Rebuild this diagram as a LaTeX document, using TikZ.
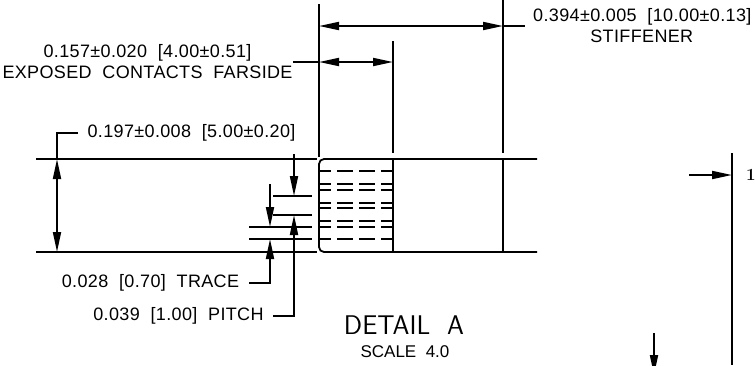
\documentclass[tikz,border=0pt]{standalone}
\usepackage{fontspec}
\usepackage{tikz}
\usetikzlibrary{arrows.meta}
\newfontfamily\cadfont[LetterSpace=2,WordSpace=2]{Liberation Sans}
\newfontfamily\cadplain[WordSpace=2]{Liberation Sans}

\tikzset{
  dimline/.style={line width=1.8pt},
  dimarrow/.style={line width=1.8pt,-{Triangle[length=20pt,width=8pt]}},
  lbl/.style={inner sep=0pt,font=\cadfont\fontsize{18}{18}\selectfont},
}

\begin{document}
\begin{tikzpicture}[x=1pt,y=1pt]
\clip (0,0) rectangle (755,-365);
\fill [white] (0,0) rectangle (755,-365);
% outline of the part
\draw [dimline] (36,-159) -- (317,-159);
\draw [dimline] (36,-252) -- (317,-252);
\draw [dimline] (537,-159) -- (324,-159) arc (90:180:5) -- (319,-247) arc (180:270:5) -- (537,-252);
\draw [dimline] (393,-159) -- (393,-252);
\draw [dimline] (503,-159) -- (503,-252);
% traces
\foreach \y in {171,184,190,203,208,221,227,239}
  \draw [dimline,dash pattern=on 16pt off 6pt,dash phase=4pt] (319,-\y) -- (393,-\y);
% extension lines
\draw [dimline] (319,-4) -- (319,-157);
\draw [dimline] (393,-41) -- (393,-153);
\draw [dimline] (503,0) -- (503,-153);
\draw [dimline] (273,-196) -- (312,-196);
\draw [dimline] (273,-215) -- (312,-215);
\draw [dimline] (249,-227) -- (312,-227);
\draw [dimline] (249,-239) -- (312,-239);
% top dimensions
\draw [dimarrow] (411,-26) -- (319,-26);
\draw [dimarrow] (411,-26) -- (503,-26);
\draw [dimline] (503,-26) -- (525,-26);
\draw [dimline] (293,-62) -- (319,-62);
\draw [dimarrow] (356,-62) -- (319,-62);
\draw [dimarrow] (356,-62) -- (393,-62);
% height
\draw [dimline] (78,-133) -- (57,-133) -- (57,-159);
\draw [dimarrow] (57,-205) -- (57,-159);
\draw [dimarrow] (57,-205) -- (57,-252);
% pitch and trace
\draw [dimarrow] (294,-154) -- (294,-196);
\draw [dimarrow] (273,-316) -- (294,-316) -- (294,-215);
\draw [dimarrow] (270,-184) -- (270,-227);
\draw [dimarrow] (249,-283) -- (270,-283) -- (270,-239);
% right side
\draw [dimline] (732,-153) -- (732,-365);
\draw [dimarrow] (689,-175) -- (732,-175);
\draw [dimarrow] (654,-333) -- (654,-375);
% labels
\node [lbl] (lblExposed) at (147.5,-52.5) {0.157±0.020 [4.00±0.51]};
\node [lbl] (lblFarside) at (147.5,-72.7) {EXPOSED CONTACTS FARSIDE};
\node [lbl] (lblHeight) at (191.5,-133.3) {0.197±0.008 [5.00±0.20]};
\node [lbl] (lblWidth) at (642.3,-17) {0.394±0.005 [10.00±0.13]};
\node [lbl] (lblStiffener) at (641.8,-36.7) {STIFFENER};
\node [lbl] (lblTrace) at (150.5,-283) {0.028 [0.70] TRACE};
\node [lbl] (lblPitch) at (178.5,-316) {0.039 [1.00] PITCH};
\node [lbl,font=\sffamily\fontsize{27}{27}\selectfont] (lblDetail) at (404,-325) {DETAIL\ \ A};
\node [lbl,font=\cadplain\fontsize{17}{17}\selectfont] (lblScale) at (405,-351.7) {SCALE 4.0};
\node [inner sep=0pt,font=\bfseries\fontsize{17}{17}\selectfont] (lblOne) at (751,-175) {1};
\end{tikzpicture}
\end{document}
